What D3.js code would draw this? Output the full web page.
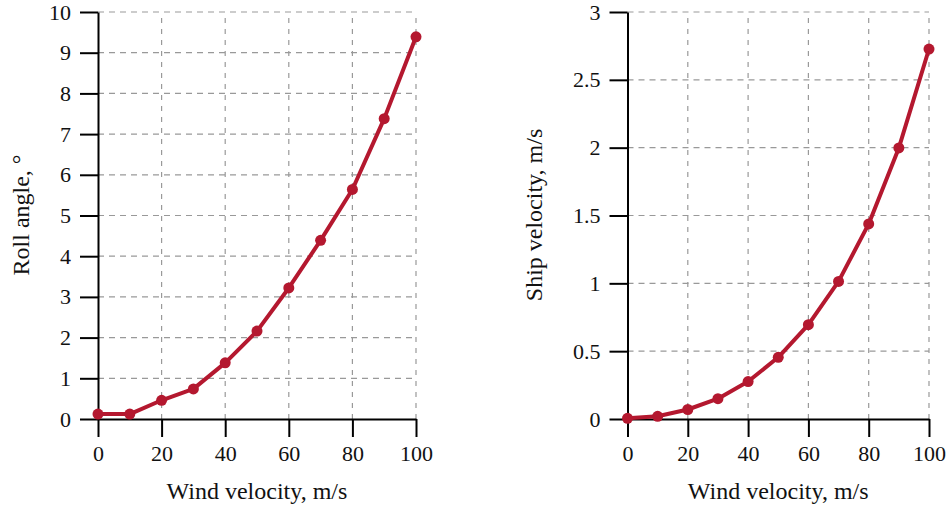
<!DOCTYPE html>
<html lang="en">
<head>
	<meta charset="UTF-8">
	<title>Roll angle and ship velocity</title>
	<style>
		body { margin: 0; background: #fff; }
		text { font-family: "Liberation Serif", "Times New Roman", serif; }
	</style>
</head>
<body>
	<script src="https://cdn.jsdelivr.net/npm/d3@7/dist/d3.min.js"></script>

	<script type="text/javascript">

		// 数据
		var windSpeed = [0, 10, 20, 30, 40, 50, 60, 70, 80, 90, 100];
		var rollAngle = [0.12, 0.12, 0.46, 0.74, 1.38, 2.16, 3.22, 4.39, 5.64, 7.38, 9.39];
		var shipSpeed = [0.005, 0.02, 0.07, 0.15, 0.276, 0.455, 0.695, 1.014, 1.438, 1.998, 2.727];

		var xTicks = [0, 20, 40, 60, 80, 100];
		var rollTicks = [0, 1, 2, 3, 4, 5, 6, 7, 8, 9, 10];
		var shipTicks = [0, 0.5, 1, 1.5, 2, 2.5, 3];

		var width = 951;
		var height = 511;
		var lineColor = "#b4182f";

		var svg = d3.select("body")
					.append("svg")
					.attr("width", width)
					.attr("height", height);

		function drawPanel(opt) {
			var g = svg.append("g");

			var x = d3.scaleLinear().domain([0, 100]).range([opt.left, opt.right]);
			var y = d3.scaleLinear().domain([0, opt.ymax]).range([419, 12]);

			// 网格线
			g.append("g").selectAll("line")
				.data(xTicks.slice(1))
				.enter().append("line")
				.attr("x1", function(d) { return x(d); })
				.attr("x2", function(d) { return x(d); })
				.attr("y1", y(0))
				.attr("y2", y(opt.ymax))
				.attr("stroke", "#999")
				.attr("stroke-width", 1.2)
				.attr("stroke-dasharray", "5,6");

			g.append("g").selectAll("line")
				.data(opt.yTicks.slice(1))
				.enter().append("line")
				.attr("x1", x(0))
				.attr("x2", x(100))
				.attr("y1", function(d) { return y(d); })
				.attr("y2", function(d) { return y(d); })
				.attr("stroke", "#999")
				.attr("stroke-width", 1.2)
				.attr("stroke-dasharray", "6,5");

			// 坐标轴
			var xAxis = d3.axisBottom(x).tickValues(xTicks).tickSize(18).tickSizeOuter(0).tickPadding(8);
			var yAxis = d3.axisLeft(y).tickValues(opt.yTicks).tickSize(18).tickSizeOuter(0).tickPadding(9)
							.tickFormat(d3.format("~g"));

			var gx = g.append("g")
						.attr("transform", "translate(0," + y(0) + ")")
						.call(xAxis);
			var gy = g.append("g")
						.attr("transform", "translate(" + x(0) + ",0)")
						.call(yAxis);

			[gx, gy].forEach(function(a) {
				a.selectAll("path, line").attr("stroke", "#000").attr("stroke-width", 2);
				a.selectAll("text")
					.attr("font-size", "22px")
					.attr("fill", "#111")
					.style("font-family", "'Liberation Serif', serif");
			});

			// 轴标题
			g.append("text")
				.attr("x", (opt.left + opt.right) / 2)
				.attr("y", 499)
				.attr("text-anchor", "middle")
				.attr("font-size", "24px")
				.attr("fill", "#111")
				.text("Wind velocity, m/s");

			g.append("text")
				.attr("transform", "translate(" + opt.titleX + ",215) rotate(-90)")
				.attr("text-anchor", "middle")
				.attr("font-size", "24px")
				.attr("fill", "#111")
				.text(opt.title);

			// 折线
			var line = d3.line()
						.x(function(d, i) { return x(windSpeed[i]); })
						.y(function(d) { return y(d); });

			g.append("path")
				.datum(opt.values)
				.attr("d", line)
				.attr("fill", "none")
				.attr("stroke", lineColor)
				.attr("stroke-width", 4)
				.attr("stroke-linejoin", "round");

			g.selectAll("circle")
				.data(opt.values)
				.enter().append("circle")
				.attr("cx", function(d, i) { return x(windSpeed[i]); })
				.attr("cy", function(d) { return y(d); })
				.attr("r", 5.5)
				.attr("fill", lineColor);
		}

		drawPanel({ left: 98, right: 416, ymax: 10, yTicks: rollTicks, values: rollAngle,
					title: "Roll angle, \u00b0", titleX: 29 });
		drawPanel({ left: 627.5, right: 929, ymax: 3, yTicks: shipTicks, values: shipSpeed,
					title: "Ship velocity, m/s", titleX: 542 });

	</script>
</body>
</html>
